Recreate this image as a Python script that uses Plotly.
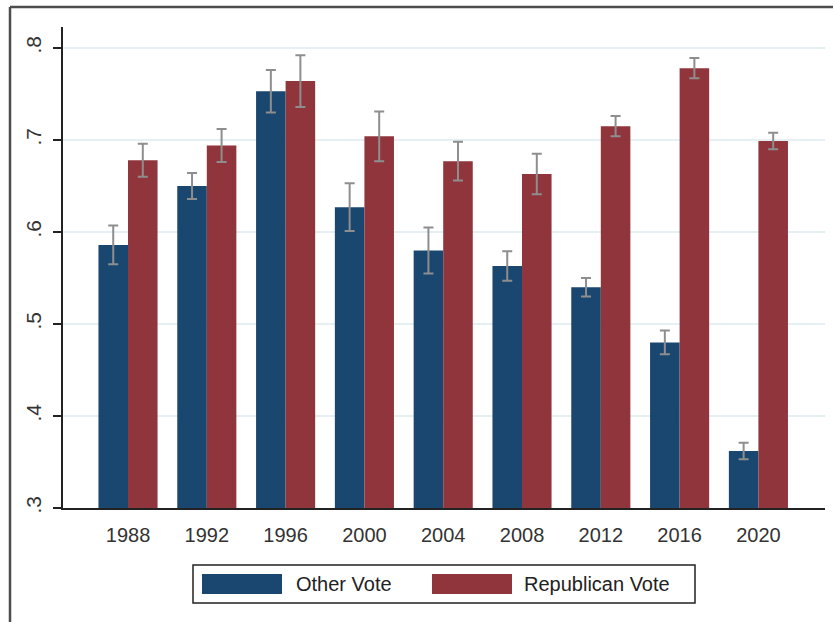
import plotly.graph_objects as go

# Election years and vote shares with their error margins
years = ["1988", "1992", "1996", "2000", "2004", "2008", "2012", "2016", "2020"]
other_vote = [0.586, 0.650, 0.753, 0.627, 0.580, 0.563, 0.540, 0.480, 0.362]
other_err = [0.021, 0.014, 0.023, 0.026, 0.025, 0.016, 0.010, 0.013, 0.009]
rep_vote = [0.678, 0.694, 0.764, 0.704, 0.677, 0.663, 0.715, 0.778, 0.699]
rep_err = [0.018, 0.018, 0.028, 0.027, 0.021, 0.022, 0.011, 0.011, 0.009]
y_ticks = [0.3, 0.4, 0.5, 0.6, 0.7, 0.8]
y_tick_text = [".3", ".4", ".5", ".6", ".7", ".8"]
series_names = ["Other Vote", "Republican Vote"]

BLUE = "#1a476f"
RED = "#90353b"
ERR = "#8e8e8e"
FONT = "Liberation Sans, Arial, sans-serif"

W, H = 833, 622
L, R, T, B = 63, 8, 27, 114
PW, PH = W - L - R, H - T - B


def px(x):
    return (x - L) / PW


def py(y):
    return (H - B - y) / PH


fig = go.Figure()
fig.add_bar(
    x=years, y=other_vote, name=series_names[0], marker_color=BLUE,
    marker_line_width=0,
    error_y=dict(type="data", array=other_err, color=ERR, thickness=2, width=5),
)
fig.add_bar(
    x=years, y=rep_vote, name=series_names[1], marker_color=RED,
    marker_line_width=0,
    error_y=dict(type="data", array=rep_err, color=ERR, thickness=2, width=5),
)

shapes = [
    # outer frame (top and left edges)
    dict(type="line", xref="paper", yref="paper", x0=px(10), x1=px(W + 5),
         y0=py(7), y1=py(7), line=dict(color="#4d4d4d", width=2.5)),
    dict(type="line", xref="paper", yref="paper", x0=px(10), x1=px(10),
         y0=py(7), y1=py(H + 5), line=dict(color="#4d4d4d", width=2.5)),
    # legend box
    dict(type="rect", xref="paper", yref="paper", x0=px(193), x1=px(695),
         y0=py(565), y1=py(603), line=dict(color="#222", width=1.5),
         fillcolor="white"),
    dict(type="rect", xref="paper", yref="paper", x0=px(202), x1=px(282),
         y0=py(574), y1=py(594), line=dict(width=0), fillcolor=BLUE),
    dict(type="rect", xref="paper", yref="paper", x0=px(432), x1=px(512),
         y0=py(574), y1=py(594), line=dict(width=0), fillcolor=RED),
]

annotations = [
    dict(text=series_names[0], xref="paper", yref="paper", x=px(294), y=py(584),
         xanchor="left", yanchor="middle", showarrow=False,
         font=dict(family=FONT, size=20, color="#222")),
    dict(text=series_names[1], xref="paper", yref="paper", x=px(522), y=py(584),
         xanchor="left", yanchor="middle", showarrow=False,
         font=dict(family=FONT, size=20, color="#222")),
]

fig.update_layout(
    width=W, height=H,
    margin=dict(l=L, r=R, t=T, b=B),
    paper_bgcolor="white", plot_bgcolor="white",
    barmode="group", bargap=0.25, bargroupgap=0,
    showlegend=False,
    shapes=shapes, annotations=annotations,
    font=dict(family=FONT, size=20, color="#333"),
    xaxis=dict(
        type="category", range=[-0.825, 8.845],
        showline=True, linecolor="#222", linewidth=1.5,
        ticks="", showgrid=False, ticklabelstandoff=8,
        tickfont=dict(family=FONT, size=20, color="#333"),
    ),
    yaxis=dict(
        range=[0.3, 0.3 + (PH) / 920],
        tickvals=y_ticks, ticktext=y_tick_text, tickangle=-90,
        showline=True, linecolor="#222", linewidth=1.5,
        ticks="outside", ticklen=8, tickwidth=1.5, tickcolor="#222",
        showgrid=True, gridcolor="#e6eff1", gridwidth=2,
        zeroline=False, ticklabelstandoff=4,
        tickfont=dict(family=FONT, size=21, color="#333"),
    ),
)

fig.write_html("out.html")
